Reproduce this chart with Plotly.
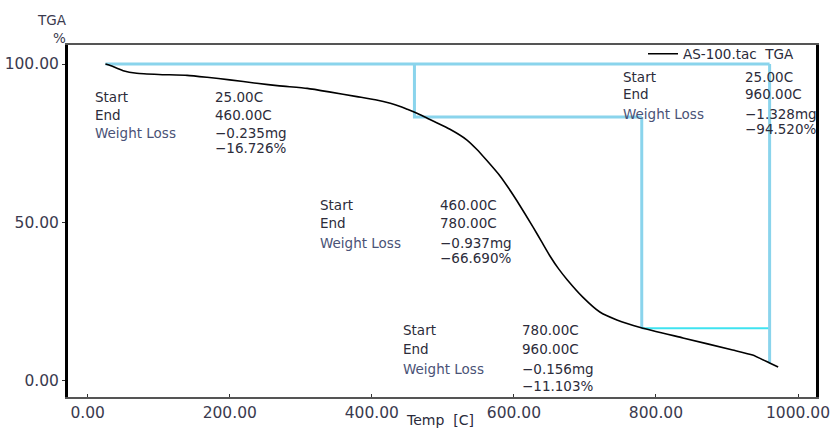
import plotly.graph_objects as go

# ---- data ----
temp_c = [25, 31, 50, 69, 100, 140, 168, 200, 238, 270, 309, 340, 379, 405, 426, 440, 450,
          465, 478, 487, 510, 534, 548, 562, 581, 592, 604, 627, 639, 651, 663, 675, 697,
          721, 745, 778, 838, 908, 936, 960, 972]
tga_pct = [100.0, 99.6, 97.9, 97.1, 96.7, 96.4, 95.8, 95.0, 93.9, 93.1, 92.3, 91.2, 89.7, 88.7, 87.6, 86.6, 85.7,
           84.3, 82.9, 81.9, 79.4, 76.0, 73.0, 69.5, 64.5, 61.0, 56.9, 48.5, 43.9, 39.3, 35.3, 31.9, 26.4,
           21.7, 19.2, 16.8, 13.5, 9.7, 8.1, 5.6, 4.3]

step_start = [25.0, 460.0, 780.0]
step_end = [460.0, 780.0, 960.0]
step_loss_mg = [-0.235, -0.937, -0.156]
step_loss_pct = [-16.726, -66.690, -11.103]
total_start, total_end, total_loss_mg, total_loss_pct = 25.0, 960.0, -1.328, -94.520

x_ticks = [0, 200, 400, 600, 800, 1000]
y_ticks = [0, 50, 100]
series_name = "AS-100.tac  TGA"

# ---- layout geometry (pixels) ----
W, H = 831, 430
L, R, T, B = 68, 15, 45, 33
PW, PH = W - L - R, H - T - B


def px(xp):
    return (xp - L) / PW


def py(yp):
    return (H - B - yp) / PH


fig = go.Figure()

cyan = "#8ad4ec"
levels = [100.0]
for lp in step_loss_pct:
    levels.append(levels[-1] + lp)


def seg(xs, ys, color=cyan, width=3):
    fig.add_trace(go.Scatter(x=xs, y=ys, mode="lines", line=dict(color=color, width=width),
                             showlegend=False, hoverinfo="skip"))


# top line at 100% across the whole range
seg([total_start, total_end], [100.0, 100.0])
# steps 2 and 3: vertical at start then horizontal to end
seg([step_start[1], step_start[1], step_end[1]], [levels[0], levels[1], levels[1]])
seg([step_start[2], step_start[2]], [levels[1], levels[2]])
seg([step_start[2], step_end[2]], [levels[2], levels[2]], color="#3fe3f0", width=2)
# total vertical at end temperature
seg([total_end, total_end], [100.0, 100.0 + total_loss_pct])

# TGA curve
fig.add_trace(go.Scatter(x=temp_c, y=tga_pct, mode="lines", name=series_name,
                         line=dict(color="black", width=1.6, shape="spline", smoothing=0.5),
                         showlegend=True))

FAM = "DejaVu Sans, Verdana, sans-serif"
txt_font = dict(family=FAM, size=13.5, color="#2c2c3a")
wl_font = dict(family=FAM, size=13.5, color="#4a5276")


def block(x_lab, x_val, y0, dy, start, end, mg, pct):
    rows = [("Start", f"{start:.2f}C", txt_font),
            ("End", f"{end:.2f}C", txt_font),
            ("Weight Loss", f"{mg:.3f}mg", wl_font)]
    for i, (lab, val, f) in enumerate(rows):
        yy = y0 + dy[i]
        fig.add_annotation(x=px(x_lab), y=py(yy), xref="paper", yref="paper", text=lab,
                           showarrow=False, xanchor="left", yanchor="middle", font=f)
        fig.add_annotation(x=px(x_val), y=py(yy), xref="paper", yref="paper",
                           text=val.replace("-", "\u2212"),
                           showarrow=False, xanchor="left", yanchor="middle", font=txt_font)
    fig.add_annotation(x=px(x_val), y=py(y0 + dy[3]), xref="paper", yref="paper",
                       text=f"{pct:.3f}%".replace("-", "\u2212"),
                       showarrow=False, xanchor="left", yanchor="middle", font=txt_font)


block(93, 213, 97, [0, 18, 36, 51], step_start[0], step_end[0], step_loss_mg[0], step_loss_pct[0])
block(318, 438, 205, [0, 18, 38, 53], step_start[1], step_end[1], step_loss_mg[1], step_loss_pct[1])
block(401, 520, 330, [0, 19, 39, 56], step_start[2], step_end[2], step_loss_mg[2], step_loss_pct[2])
block(621, 743, 77, [0, 17, 37, 52], total_start, total_end, total_loss_mg, total_loss_pct)

axis_font = dict(family=FAM, size=15.5, color="#3a3a4e")
title_font = dict(family=FAM, size=13.5, color="#3a3a4e")

# axis titles
fig.add_annotation(x=px(52), y=py(20), xref="paper", yref="paper", text="TGA", showarrow=False,
                   font=title_font, xanchor="center", yanchor="middle")
fig.add_annotation(x=px(59), y=py(38), xref="paper", yref="paper", text="%", showarrow=False,
                   font=title_font, xanchor="center", yanchor="middle")
fig.add_annotation(x=px(440), y=py(420.5), xref="paper", yref="paper", text="Temp  [C]", showarrow=False,
                   font=dict(family=FAM, size=14, color="#2a2a3a"),
                   xanchor="center", yanchor="middle")

fig.update_layout(
    width=W, height=H,
    margin=dict(l=L, r=R, t=T, b=B, autoexpand=False),
    paper_bgcolor="white", plot_bgcolor="white",
    showlegend=True,
    legend=dict(x=px(643), y=py(54), xanchor="left", yanchor="middle", bgcolor="rgba(0,0,0,0)",
                font=dict(family=FAM, size=13.5, color="#2a2a3a"), borderwidth=0),
    xaxis=dict(range=[-27.7, 1025.3], tickvals=x_ticks, tickformat=".2f", showgrid=False,
               zeroline=False, showline=True, linecolor="#555555", linewidth=2, mirror=True,
               ticks="inside", ticklen=3, tickcolor="#333", tickfont=axis_font),
    yaxis=dict(range=[-5.15, 106.0], tickvals=y_ticks, tickformat=".2f", showgrid=False,
               zeroline=False, showline=True, linecolor="black", linewidth=3, mirror=True,
               ticks="outside", ticklen=3, tickcolor="#333", tickfont=axis_font),
)

fig.write_html("out.html", config={"displayModeBar": False},
               post_script="document.body.style.margin='0px';")
